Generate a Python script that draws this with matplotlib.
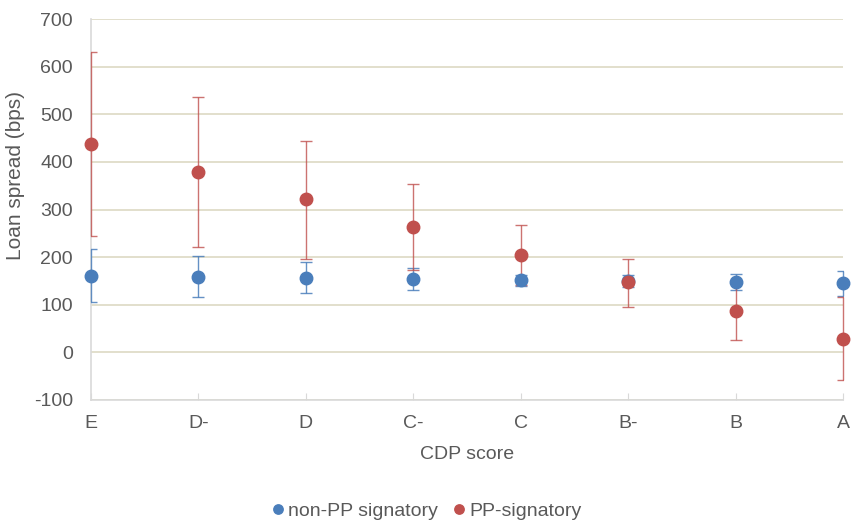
import matplotlib
matplotlib.use("Agg")
import matplotlib.pyplot as plt
import numpy as np

categories = ["E", "D-", "D", "C-", "C", "B-", "B", "A"]
non_pp = [161, 158, 156, 154, 151, 150, 147, 145]
non_pp_low = [106, 116, 124, 132, 140, 138, 131, 118]
non_pp_high = [217, 202, 190, 177, 163, 162, 164, 171]
pp = [437, 379, 321, 263, 205, 147, 87, 29]
pp_low = [244, 222, 197, 172, 142, 95, 27, -58]
pp_high = [630, 537, 444, 354, 268, 196, 147, 116]

plt.rcParams['font.family'] = ['Liberation Sans', 'DejaVu Sans']
plt.rcParams['axes.unicode_minus'] = False
fig = plt.figure(figsize=(8.53, 5.23), dpi=100)
ax = fig.add_axes([91/853, 1-400/523, (843-91)/853, (400-19)/523])

x = np.arange(len(categories))
blue = "#4a7ebb"
red = "#c0504d"
txt = "#595959"

def err(v, lo, hi):
    v = np.array(v); return np.vstack([v - np.array(lo), np.array(hi) - v])

eb1 = ax.errorbar(x, non_pp, yerr=err(non_pp, non_pp_low, non_pp_high), fmt='none',
                  ecolor=blue, elinewidth=1.0, capsize=4, capthick=1.0, alpha=0.85, zorder=3)
eb2 = ax.errorbar(x, pp, yerr=err(pp, pp_low, pp_high), fmt='none',
                  ecolor=red, elinewidth=1.0, capsize=4, capthick=1.0, alpha=0.8, zorder=3)
for eb in (eb1, eb2):
    for coll in eb.lines[2]:
        coll.set_clip_on(False)

ax.plot(x, non_pp, 'o', color=blue, markersize=9, label="non-PP signatory", zorder=4, clip_on=False)
ax.plot(x, pp, 'o', color=red, markersize=9, label="PP-signatory", zorder=5, clip_on=False)

ax.set_xlim(0, 7)
ax.set_ylim(-100, 700)
ax.set_yticks(np.arange(-100, 701, 100))
ax.set_xticks(x)
ax.set_xticklabels(categories)
ax.yaxis.grid(True, color="#ddd9c4", linewidth=1.2)
ax.set_axisbelow(True)
for s in ["top", "right"]:
    ax.spines[s].set_visible(False)
for s in ["left", "bottom"]:
    ax.spines[s].set_color("#d9d9d9")
    ax.spines[s].set_linewidth(1.2)
ax.tick_params(axis='y', length=0, labelsize=14, labelcolor=txt, pad=13)
ax.tick_params(axis='x', direction='in', length=5, color="#d9d9d9", labelsize=14, labelcolor=txt, pad=11)

ax.set_xlabel("CDP score", fontsize=14, color=txt, labelpad=10)
ax.set_ylabel("Loan spread (bps)", fontsize=15, color=txt)
ax.yaxis.set_label_coords((25-91)/752, (400-176)/381)

fig.legend(loc="center", bbox_to_anchor=(425/853, 1-511/523), ncol=2, frameon=False,
           fontsize=14, labelcolor=txt, handletextpad=0.0, columnspacing=0.6,
           markerscale=0.75, handlelength=1.0)

fig.savefig("out.png", dpi=100)
